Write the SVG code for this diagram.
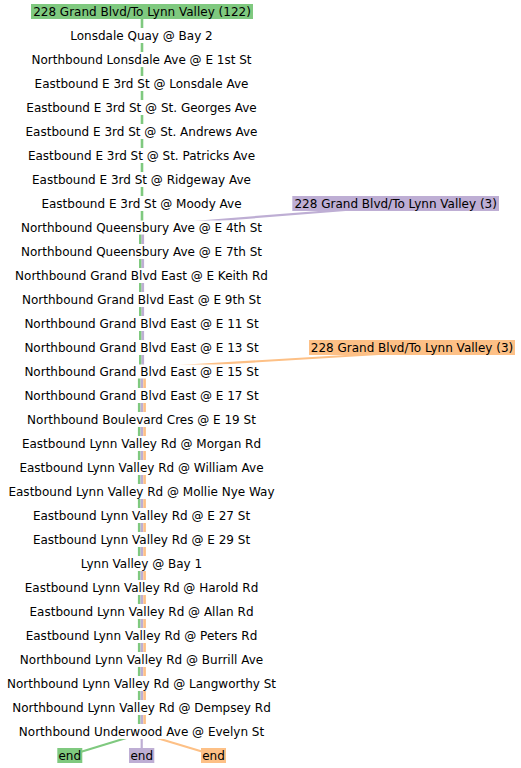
<svg xmlns="http://www.w3.org/2000/svg" width="521" height="768" viewBox="0 0 521 768">
<style>
text{font-family:"DejaVu Sans",sans-serif;font-size:12px;fill:#000;text-anchor:middle}
.bg{fill:#fff}
.g{stroke:#7fc97f}
.p{stroke:#beaed4}
.o{stroke:#fdc086}
.ln{fill:none;stroke-width:2.6}
.cn{fill:none;stroke-width:2.2}
.gb{fill:#7fc97f}
.pb{fill:#beaed4}
.ob{fill:#fdc086}
</style>
<rect width="521" height="768" fill="#fff"/>
<g id="connectors">
<path class="ln g" d="M142 11.5V227.5H140.3V371.5H139.2V731.5"/>
<path class="ln p" d="M142.8 227.5V371.5H141.9V731.5"/>
<path class="ln o" d="M144.6 371.5V731.5"/>
<path class="cn p" d="M143 226L396 206"/>
<path class="cn o" d="M146 368L412 352"/>
<path class="cn g" d="M141 733.5L69.8 755.3"/>
<path class="cn p" d="M141.7 733.5V755"/>
<path class="cn o" d="M142 733.5L213.5 755"/>
</g>
<g id="title"><rect class="gb" x="31" y="4" width="222" height="15"/><text x="142" y="15.8">228 Grand Blvd/To Lynn Valley (122)</text></g>
<g id="label-purple"><rect class="pb" x="292.3" y="196" width="206.7" height="15"/><text x="395.7" y="207.8">228 Grand Blvd/To Lynn Valley (3)</text></g>
<g id="label-orange"><rect class="ob" x="309" y="340" width="206" height="15"/><text x="412" y="351.8">228 Grand Blvd/To Lynn Valley (3)</text></g>
<g id="s1"><rect class="bg" x="69" y="28" width="145" height="15"/><text x="141.5" y="39.8">Lonsdale Quay @ Bay 2</text></g>
<g id="s2"><rect class="bg" x="25" y="52" width="233" height="15"/><text x="141.5" y="63.8">Northbound Lonsdale Ave @ E 1st St</text></g>
<g id="s3"><rect class="bg" x="28" y="76" width="226" height="15"/><text x="141.5" y="87.8">Eastbound E 3rd St @ Lonsdale Ave</text></g>
<g id="s4"><rect class="bg" x="18" y="100" width="247" height="15"/><text x="141.5" y="111.8">Eastbound E 3rd St @ St. Georges Ave</text></g>
<g id="s5"><rect class="bg" x="18" y="124" width="247" height="15"/><text x="141.5" y="135.8">Eastbound E 3rd St @ St. Andrews Ave</text></g>
<g id="s6"><rect class="bg" x="15" y="148" width="254" height="15"/><text x="141.5" y="159.8">Eastbound E 3rd St @ St. Patricks Ave</text></g>
<g id="s7"><rect class="bg" x="28" y="172" width="226" height="15"/><text x="141.5" y="183.8">Eastbound E 3rd St @ Ridgeway Ave</text></g>
<g id="s8"><rect class="bg" x="38" y="196" width="206" height="15"/><text x="141.5" y="207.8">Eastbound E 3rd St @ Moody Ave</text></g>
<g id="s9"><rect class="bg" x="18" y="220.5" width="247" height="14"/><text x="141.5" y="231.8">Northbound Queensbury Ave @ E 4th St</text></g>
<g id="s10"><rect class="bg" x="18" y="244" width="247" height="15"/><text x="141.5" y="255.8">Northbound Queensbury Ave @ E 7th St</text></g>
<g id="s11"><rect class="bg" x="8" y="268" width="267" height="15"/><text x="141.5" y="279.8">Northbound Grand Blvd East @ E Keith Rd</text></g>
<g id="s12"><rect class="bg" x="15" y="292" width="254" height="15"/><text x="141.5" y="303.8">Northbound Grand Blvd East @ E 9th St</text></g>
<g id="s13"><rect class="bg" x="18" y="316" width="247" height="15"/><text x="141.5" y="327.8">Northbound Grand Blvd East @ E 11 St</text></g>
<g id="s14"><rect class="bg" x="18" y="340" width="247" height="15"/><text x="141.5" y="351.8">Northbound Grand Blvd East @ E 13 St</text></g>
<g id="s15"><rect class="bg" x="18" y="364.5" width="247" height="14"/><text x="141.5" y="375.8">Northbound Grand Blvd East @ E 15 St</text></g>
<g id="s16"><rect class="bg" x="18" y="388" width="247" height="15"/><text x="141.5" y="399.8">Northbound Grand Blvd East @ E 17 St</text></g>
<g id="s17"><rect class="bg" x="21" y="412" width="240" height="15"/><text x="141.5" y="423.8">Northbound Boulevard Cres @ E 19 St</text></g>
<g id="s18"><rect class="bg" x="18" y="436" width="247" height="15"/><text x="141.5" y="447.8">Eastbound Lynn Valley Rd @ Morgan Rd</text></g>
<g id="s19"><rect class="bg" x="11" y="460" width="260" height="15"/><text x="141.5" y="471.8">Eastbound Lynn Valley Rd @ William Ave</text></g>
<g id="s20"><rect class="bg" x="1" y="484" width="281" height="15"/><text x="141.5" y="495.8">Eastbound Lynn Valley Rd @ Mollie Nye Way</text></g>
<g id="s21"><rect class="bg" x="25" y="508" width="233" height="15"/><text x="141.5" y="519.8">Eastbound Lynn Valley Rd @ E 27 St</text></g>
<g id="s22"><rect class="bg" x="25" y="532" width="233" height="15"/><text x="141.5" y="543.8">Eastbound Lynn Valley Rd @ E 29 St</text></g>
<g id="s23"><rect class="bg" x="76" y="556" width="131" height="15"/><text x="141.5" y="567.8">Lynn Valley @ Bay 1</text></g>
<g id="s24"><rect class="bg" x="18" y="580" width="247" height="15"/><text x="141.5" y="591.8">Eastbound Lynn Valley Rd @ Harold Rd</text></g>
<g id="s25"><rect class="bg" x="21" y="604" width="240" height="15"/><text x="141.5" y="615.8">Eastbound Lynn Valley Rd @ Allan Rd</text></g>
<g id="s26"><rect class="bg" x="18" y="628" width="247" height="15"/><text x="141.5" y="639.8">Eastbound Lynn Valley Rd @ Peters Rd</text></g>
<g id="s27"><rect class="bg" x="8" y="652" width="267" height="15"/><text x="141.5" y="663.8">Northbound Lynn Valley Rd @ Burrill Ave</text></g>
<g id="s28"><rect class="bg" x="1" y="676" width="281" height="15"/><text x="141.5" y="687.8">Northbound Lynn Valley Rd @ Langworthy St</text></g>
<g id="s29"><rect class="bg" x="11" y="700" width="260" height="15"/><text x="141.5" y="711.8">Northbound Lynn Valley Rd @ Dempsey Rd</text></g>
<g id="s30"><rect class="bg" x="18" y="724" width="247" height="15"/><text x="141.5" y="735.8">Northbound Underwood Ave @ Evelyn St</text></g>
<g id="end-green"><rect class="gb" x="57.3" y="748" width="25" height="15"/><text x="69.8" y="759.8">end</text></g>
<g id="end-purple"><rect class="pb" x="129" y="748" width="25.3" height="15"/><text x="141.7" y="759.8">end</text></g>
<g id="end-orange"><rect class="ob" x="201" y="748" width="25" height="15"/><text x="213.5" y="759.8">end</text></g>
</svg>
